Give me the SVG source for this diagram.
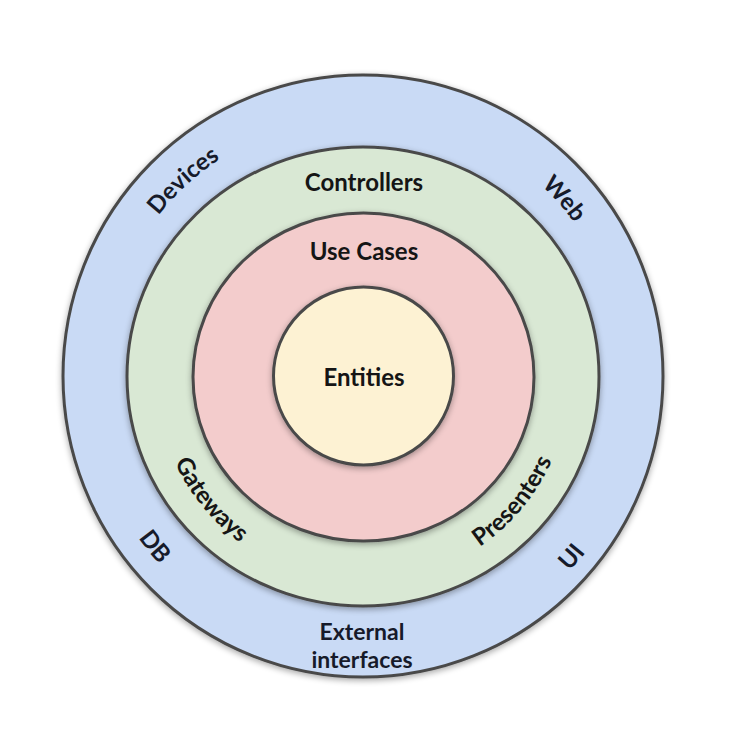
<svg xmlns="http://www.w3.org/2000/svg" width="738" height="745" viewBox="0 0 738 745">
  <style>
    .ring { stroke: #4a4a4a; stroke-width: 3; filter: url(#shadow); }
    .lbl { font-family: Lato, "Open Sans", "Liberation Sans", sans-serif; font-weight: 700; font-size: 24px; fill: #151515; text-anchor: middle; }
    .arc { fill: #161a2a; }
    .ext { font-size: 23px; }
  </style>
  <defs>
    <filter id="shadow" x="-10%" y="-10%" width="120%" height="120%">
      <feGaussianBlur in="SourceAlpha" stdDeviation="3"/>
      <feOffset dx="0" dy="2" result="b"/>
      <feComponentTransfer><feFuncA type="linear" slope="0.35"/></feComponentTransfer>
      <feMerge><feMergeNode/><feMergeNode in="SourceGraphic"/></feMerge>
    </filter>
    <path id="pDevices" d="M114.9,298.3 A260,260 0 0 1 306.3,122.3"/>
    <path id="pWeb" d="M507.5,158.6 A261,261 0 0 1 596.8,260.0"/>
    <path id="pGateways" d="M158.6,408.7 A207,207 0 0 0 289.2,569.4"/>
    <path id="pDB" d="M101.6,467.6 A277,277 0 0 0 221.6,614.2"/>
    <path id="pPresenters" d="M434.1,570.4 A207,207 0 0 0 566.9,411.6"/>
    <path id="pUI" d="M501.1,624.2 A284,284 0 0 0 628.3,477.3"/>
  </defs>
  <rect width="738" height="745" fill="#ffffff"/>

  <g id="external-interfaces">
    <ellipse class="ring" cx="363" cy="376" rx="300" ry="301" fill="#c9daf5"/>
    <text class="lbl arc"><textPath href="#pDevices" startOffset="50%">Devices</textPath></text>
    <text class="lbl arc"><textPath href="#pWeb" startOffset="50%">Web</textPath></text>
    <text class="lbl arc"><textPath href="#pDB" startOffset="50%">DB</textPath></text>
    <text class="lbl arc"><textPath href="#pUI" startOffset="50%">UI</textPath></text>
    <text class="lbl arc ext" x="362" y="640">External</text>
    <text class="lbl arc ext" x="362" y="668">interfaces</text>
  </g>

  <g id="controllers">
    <ellipse class="ring" cx="363" cy="376.5" rx="236" ry="229.5" fill="#d9e8d4"/>
    <text class="lbl" x="364" y="191">Controllers</text>
    <text class="lbl"><textPath href="#pGateways" startOffset="50%">Gateways</textPath></text>
    <text class="lbl"><textPath href="#pPresenters" startOffset="50%">Presenters</textPath></text>
  </g>

  <g id="use-cases">
    <ellipse class="ring" cx="363.5" cy="377" rx="170.5" ry="164" fill="#f3cccc"/>
    <text class="lbl" x="364" y="260">Use Cases</text>
  </g>

  <g id="entities">
    <ellipse class="ring" cx="363.5" cy="376" rx="90" ry="89" fill="#fdf2d3"/>
    <text class="lbl" x="364" y="386">Entities</text>
  </g>
</svg>
